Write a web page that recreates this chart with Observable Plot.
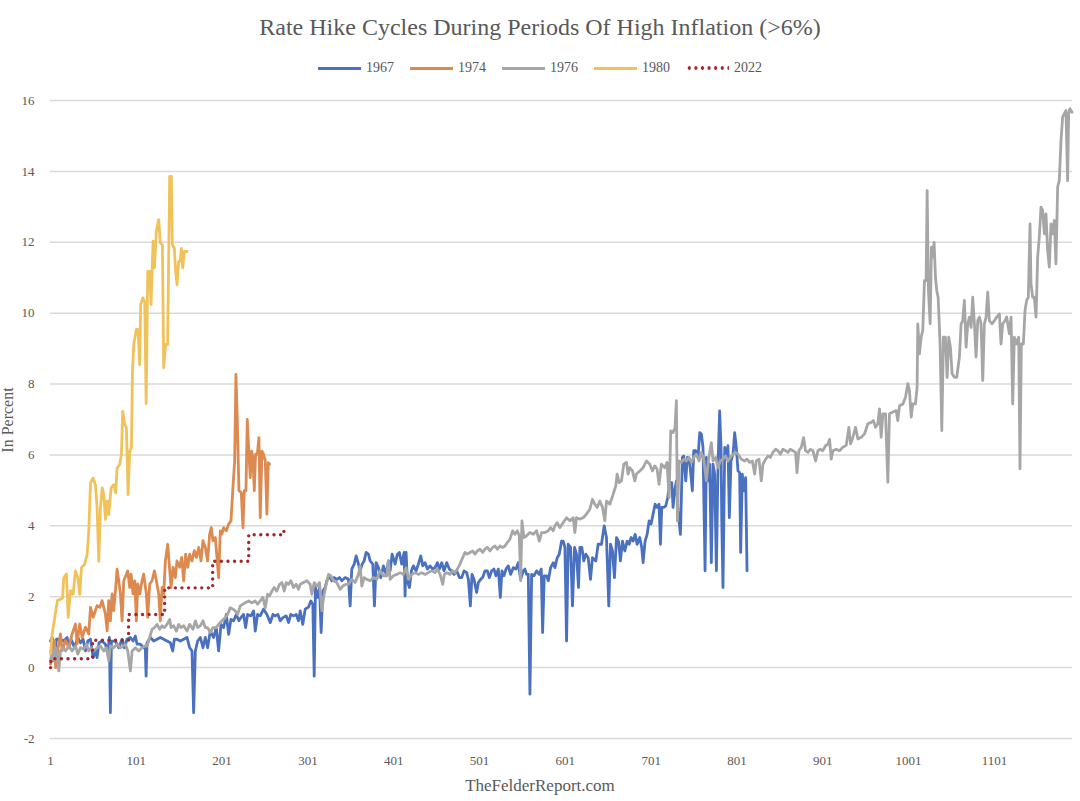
<!DOCTYPE html>
<html><head><meta charset="utf-8">
<script src="https://cdn.jsdelivr.net/npm/d3@7"></script>
<script src="https://cdn.jsdelivr.net/npm/@observablehq/plot@0.6"></script>
<style>
body{margin:0;background:#fff;font-family:"Liberation Serif",serif;color:#595959;}
#wrap{position:relative;width:1080px;height:801px;overflow:hidden;}
#title{position:absolute;top:13px;left:0;width:1080px;text-align:center;font-size:24px;line-height:28px;}
#legend{position:absolute;top:60px;left:0;width:1080px;display:flex;justify-content:center;align-items:center;font-size:14px;line-height:16px;}
.item{display:flex;align-items:center;margin:0 8px;}
.sw{width:43px;height:3px;margin-right:5px;}
#chart{position:absolute;top:90px;left:0;z-index:1;}
#ylabel{position:absolute;left:-32px;top:410px;width:80px;text-align:center;font-size:16px;line-height:20px;transform:rotate(-90deg);z-index:2;}
#caption{position:absolute;top:776px;left:0;width:1080px;text-align:center;font-size:17px;line-height:20px;z-index:2;}
</style></head>
<body><div id="wrap">
<div id="title">Rate Hike Cycles During Periods Of High Inflation (&gt;6%)</div>
<div id="legend"></div>
<div id="ylabel">In Percent</div>
<div id="chart"></div>
<div id="caption">TheFelderReport.com</div>
</div>
<script>
// [day index, percent]
const s1967 = [[1,0.75],[3,0.85],[5.7,0.38],[8,0.8],[12.6,0.8],[16.5,0.75],[20.4,0.85],[22.3,0.56],[25,0.8],[29,0.56],[32.8,0.85],[35.9,0.7],[39,0.8],[41.7,0.47],[44.5,0.75],[47.6,0.8],[50.7,0.28],[53.4,0.47],[55.3,0.28],[57.6,0.7],[61.1,0.75],[65,0.66],[67.7,0.38],[69.6,0.85],[70.8,-1.27],[72,0.75],[76.7,0.75],[80.5,0.56],[84.4,0.8],[87.1,0.56],[90.2,0.8],[94.1,0.85],[97.2,0.75],[99.9,0.89],[101.9,0.66],[105.8,0.66],[109.6,0.56],[111.4,0.6],[112.4,-0.24],[113.5,0.7],[117.4,0.85],[121.3,0.75],[125.2,0.8],[129,0.85],[132.9,0.8],[136.8,0.75],[140.7,0.7],[143.4,0.47],[145.3,0.8],[148.4,0.8],[152.3,0.75],[156.2,0.8],[160.1,0.85],[163.2,0.56],[165.9,0.47],[167.8,-1.27],[169.8,0.47],[172.5,0.75],[175.6,0.85],[178.7,0.56],[181.4,0.85],[184.1,0.56],[187.2,1.03],[191.1,0.85],[194.2,1.13],[196.9,0.47],[199.7,1.22],[202.8,1.13],[205.9,1.5],[208.6,0.94],[211.3,1.36],[214.4,1.32],[217.5,1.5],[220.6,1.32],[222.9,1.41],[226,1.5],[228.4,1.13],[230.7,1.5],[234.6,1.46],[237.7,1.6],[239.6,1.03],[242.3,1.5],[245.4,1.46],[249.3,1.65],[253.2,1.5],[257.1,1.27],[260.2,1.5],[262.9,1.46],[266,1.5],[268.7,1.32],[271.8,1.41],[275.7,1.46],[278.4,1.27],[281.1,1.5],[284.2,1.46],[287.3,1.5],[290,1.32],[292,1.6],[295,1.22],[297.8,1.65],[301.7,1.71],[304.4,1.88],[306.7,1.79],[308.3,-0.24],[309.8,2.26],[312.2,1.98],[314.5,2.26],[316.4,0.99],[318.4,2.16],[321.1,2.26],[323,2.45],[326.1,2.59],[328.9,2.45],[331.6,2.54],[334.7,2.49],[337.8,2.54],[340.5,2.45],[344.4,2.54],[348.3,2.49],[350.2,1.74],[352.1,2.78],[354.9,2.92],[357.2,3.15],[359.9,2.92],[361.8,2.73],[364.2,2.92],[366.5,3.01],[368.8,3.25],[371.5,3.2],[373.5,3.01],[376.6,2.92],[378.5,1.74],[380.5,2.96],[383.2,2.82],[385.9,2.54],[389,2.87],[392.1,2.63],[394.8,3.01],[396.8,2.73],[399.1,3.2],[402.6,2.92],[405.3,3.2],[407.6,3.25],[410.3,2.92],[413.1,3.25],[414.2,2.02],[415.4,3.25],[416.9,2.45],[419.3,2.26],[421.6,2.73],[423.9,2.87],[427,2.73],[429.7,2.92],[432.5,3.15],[434.8,2.87],[437.5,2.96],[440.2,2.78],[443.3,2.87],[446.4,2.78],[449.1,2.82],[451.9,2.96],[454.2,2.78],[456.9,2.96],[459.6,2.73],[462.7,2.96],[465.8,2.78],[468.5,2.73],[471.3,2.63],[474.4,2.73],[477.5,2.54],[480.2,2.54],[482.9,2.73],[486,2.68],[488,2.49],[490.3,1.74],[492.2,2.63],[494.5,2.49],[497.6,2.12],[499.6,2.4],[502.3,2.49],[504.6,2.54],[507.3,2.73],[510.1,2.73],[512.4,2.54],[515.1,2.73],[517.8,2.78],[520.1,2.59],[522.9,2.78],[525.2,1.98],[527.1,2.73],[529.5,2.59],[531.8,2.78],[534.5,2.87],[537.2,2.63],[540.3,2.82],[543.4,2.78],[546.1,2.96],[548.9,2.49],[552,2.73],[553.9,2.78],[555.8,2.63],[557.8,2.63],[559.7,-0.75],[561.7,2.63],[564.4,2.59],[567.5,2.73],[570.6,2.63],[572.9,2.78],[574.5,0.99],[576.4,2.59],[579.1,2.59],[581.1,2.45],[583.8,2.82],[586.9,2.96],[588.8,2.82],[591.5,3.1],[593.9,3.2],[596.6,3.57],[598.5,3.57],[600.5,3.39],[602.4,0.75],[604.3,3.48],[607.1,3.39],[609.3,1.74],[611.7,3.39],[614,3.2],[616.3,2.26],[617.9,3.39],[620.2,3.39],[622.5,3.01],[624.9,3.2],[627.6,3.1],[630.3,2.49],[632.6,3.1],[636.5,3.01],[639.2,3.48],[643.1,3.48],[646.2,4.0],[648.9,3.67],[651.6,1.74],[653.6,3.48],[655.9,3.29],[658.2,2.54],[660.6,3.67],[662.9,3.57],[665.2,3.01],[667.5,3.57],[670.3,3.29],[673,3.57],[675.3,3.48],[677.6,3.67],[680,3.57],[682.3,3.76],[684.6,3.48],[687.7,3.67],[690,3.39],[691.6,2.96],[693.9,3.57],[696.3,3.76],[698.6,4.14],[700.9,4.05],[703.2,4.33],[705.6,4.61],[707.9,4.52],[710.2,4.61],[711.8,3.48],[713.3,4.52],[715.7,4.52],[718,4.56],[720.3,4.8],[722.6,5.22],[725,5.22],[726.5,4.52],[728.5,4.99],[730.4,5.27],[732.3,4.42],[735.1,3.76],[737.4,5.93],[738.9,5.97],[741.3,5.27],[743.2,5.93],[745.9,5.79],[749,4.99],[750.6,6.12],[752.9,6.12],[755.6,5.93],[757.6,6.63],[759.5,6.59],[761.4,6.21],[763.8,2.73],[765.3,5.93],[767.3,5.27],[769.2,5.74],[771.1,2.96],[773.1,5.74],[775,5.46],[777,2.73],[778.9,5.74],[780.8,7.24],[782.4,6.21],[783.2,4.23],[784.7,2.26],[786.7,6.21],[788.6,6.02],[790.5,6.26],[792.1,4.23],[794,5.83],[796.4,6.02],[798.3,6.63],[800.2,6.21],[802.2,5.55],[804.1,5.5],[805.3,3.25],[807.2,5.46],[809.2,4.99],[811.1,5.36],[812.7,2.73]];

const s1974 = [[1,0.1],[2.9,0.29],[5.7,0.76],[7,0.0],[8.8,0.38],[12.6,0.95],[14.6,0.48],[18.5,0.76],[22.3,0.57],[26.2,0.95],[30.1,1.23],[32,0.67],[35.1,1.23],[37.9,0.85],[41.7,1.14],[45.6,0.95],[47.6,1.7],[50.7,1.42],[53.4,1.61],[55.3,1.75],[58.4,1.7],[61.1,1.89],[63.1,1.7],[65,1.51],[67,1.04],[68.9,1.89],[70.8,1.32],[72.8,2.08],[74.7,1.61],[76.7,2.17],[78.6,2.78],[80.5,2.45],[82.5,2.08],[84.4,1.32],[86.4,2.45],[89.5,2.64],[91,2.73],[93.3,2.26],[94.9,2.64],[97.2,2.08],[99.2,2.45],[101.1,1.32],[102.7,2.36],[105,2.08],[107.7,2.45],[109.6,2.64],[112.7,2.08],[114.3,1.42],[116.6,2.36],[119.3,2.45],[122.1,2.73],[124.4,2.45],[127.1,2.08],[129,1.32],[131,2.26],[132.9,2.08],[134.9,3.01],[137.6,3.48],[139.1,3.01],[141.5,2.26],[143.8,2.83],[146.5,2.54],[148.4,3.01],[151.5,2.83],[153.9,3.11],[156.2,2.45],[158.5,3.2],[160.9,2.83],[163.2,3.2],[165.9,3.01],[168.6,3.3],[171,3.11],[173.7,3.39],[176.4,3.01],[178.7,3.58],[181.4,3.39],[184.1,3.01],[186.5,3.77],[188.4,3.95],[190.3,3.58],[193.1,3.67],[196.9,2.54],[198.9,3.86],[200.8,3.77],[202.8,3.95],[205.9,3.86],[208.6,4.05],[211.3,4.14],[213.6,5.08],[215.6,5.83],[217.1,8.27],[218.7,6.96],[220.6,4.99],[223.3,4.94],[225.3,3.95],[226.8,4.99],[228.8,4.99],[230.3,7.0],[232.3,6.02],[233.8,5.36],[235.4,6.11],[236.9,5.92],[238.5,4.99],[240,6.02],[242,6.02],[243.9,6.49],[245.4,4.23],[247.4,6.11],[249.3,6.02],[251.3,5.83],[253.2,4.33],[254.8,5.78],[256.3,5.74]];

const s1976 = [[1,0.19],[3,0.47],[4.9,0.19],[6.8,0.56],[8.8,0.38],[10.7,-0.09],[12.6,0.47],[15.7,0.56],[18.5,0.47],[22.3,0.61],[26.2,0.47],[30.1,0.61],[32.8,0.38],[35.9,0.56],[39.8,0.52],[42.9,0.66],[45.6,0.47],[48.3,0.56],[51.4,0.47],[55.3,0.56],[59.2,0.61],[63.1,0.47],[66.2,0.56],[68.9,0.19],[70.8,0.61],[74.7,0.56],[78.6,0.66],[82.5,0.56],[85.6,0.61],[88.3,0.66],[91,0.47],[94.1,-0.09],[96.1,0.47],[100,0.56],[103.8,0.47],[107.7,0.56],[110.8,0.61],[113.5,0.61],[116.6,0.85],[119.3,1.08],[122.1,1.13],[125.2,1.22],[128.3,1.08],[131,1.18],[133.7,1.13],[136.8,1.22],[139.9,1.36],[141.5,1.13],[144.6,1.18],[147.7,1.03],[150.4,1.22],[153.1,1.13],[156.2,1.18],[160.1,1.03],[163.2,1.22],[167.1,1.08],[169.8,1.32],[172.5,1.13],[175.6,1.18],[178.7,1.32],[181.4,1.13],[184.1,1.13],[187.2,0.99],[190.3,1.13],[194.2,1.13],[196.9,1.22],[200.8,1.32],[204.7,1.41],[207.4,1.5],[210.5,1.69],[213.6,1.65],[216.3,1.6],[219.1,1.5],[222.2,1.74],[225.3,1.79],[228,1.83],[231.9,1.88],[235.7,1.83],[239.6,1.88],[242.3,1.79],[245.4,1.88],[248.5,1.98],[251.3,1.69],[254,2.07],[256.3,2.02],[259,2.16],[261.7,2.26],[264.8,2.16],[267.9,2.35],[270.7,2.4],[273.4,2.16],[275.7,2.4],[278.4,2.35],[281.1,2.45],[284.2,2.26],[287.3,2.35],[290,2.21],[292,2.35],[295.9,2.4],[299.8,2.45],[303.6,2.35],[305.6,2.07],[308.3,2.4],[311.4,2.3],[314.5,2.4],[317.2,1.6],[319.2,1.98],[322.3,2.35],[325,2.63],[327.7,2.59],[330.8,2.45],[334.7,2.4],[338.6,2.21],[341.7,2.3],[345.5,2.35],[348.3,2.35],[352.1,2.49],[356,2.4],[359.9,2.63],[361.8,2.87],[363.8,2.3],[366.5,2.54],[369.6,2.49],[373.5,2.45],[377.4,2.54],[381.2,2.49],[385.1,2.73],[389,2.59],[392.9,2.59],[394.8,3.01],[396.8,2.49],[400.6,2.59],[404.5,2.63],[408.4,2.68],[412.3,2.63],[415.4,2.82],[418.1,2.49],[422,2.63],[425.9,2.68],[429.7,2.63],[433.6,2.68],[437.5,2.63],[441.4,2.68],[445.3,2.73],[449.1,2.68],[451.9,2.78],[455,2.63],[458.1,2.35],[460,2.63],[462.7,2.68],[466.6,2.63],[469.7,2.73],[472.4,2.68],[475.1,2.78],[478.2,2.92],[481.3,3.1],[484.1,3.25],[486.8,3.2],[489.9,3.25],[493,3.29],[495.7,3.2],[498.4,3.29],[501.5,3.34],[504.6,3.25],[507.3,3.34],[510.1,3.39],[513.2,3.29],[516.3,3.39],[519,3.43],[521.7,3.34],[524.8,3.43],[527.9,3.39],[530.6,3.43],[533.3,3.53],[536.4,3.62],[539.5,3.86],[542.3,3.76],[545,3.86],[547.3,3.72],[548.9,2.45],[550.4,4.14],[552.7,3.67],[555.8,3.72],[559.7,3.81],[563.6,3.76],[567.5,3.86],[570.6,3.57],[573.3,3.81],[577.2,3.81],[581.1,3.86],[583.8,3.95],[586.9,3.86],[588.8,4.0],[591.5,4.09],[594.6,3.95],[598.5,4.09],[602.4,4.23],[606.2,4.14],[610.1,4.23],[612.1,3.81],[614,4.23],[617.9,4.19],[621.8,4.23],[625.6,4.33],[629.5,4.47],[632.6,4.75],[635.3,4.61],[638.1,4.52],[641.2,4.7],[644.3,4.52],[647,4.14],[648.9,4.7],[652.8,4.61],[656.7,4.89],[659.8,5.13],[661.3,5.46],[663.7,5.22],[666.4,5.27],[669.1,5.74],[672.2,5.79],[674.1,5.46],[676.1,5.64],[679.2,5.55],[681.9,5.27],[683.8,5.46],[687.7,5.55],[691.6,5.64],[695.5,5.83],[699.4,5.74],[702.5,5.55],[705.2,5.69],[707.9,5.6],[710.2,5.17],[712.9,5.74],[716.8,5.64],[719.5,5.79],[721.9,4.8],[723.8,6.68],[726.5,6.63],[728.8,6.77],[730.4,7.53],[731.6,4.14],[733.5,5.83],[736.2,5.79],[738.9,5.88],[742,5.83],[745.1,5.93],[747.9,5.79],[750.6,5.93],[753.7,6.02],[756.8,5.83],[759.5,6.07],[762.2,5.88],[765.3,5.27],[768,5.88],[771.1,6.35],[773.1,5.83],[776.2,5.93],[778.9,5.64],[781.6,5.83],[784.7,5.88],[787.8,5.97],[790.5,5.83],[793.3,5.93],[796.4,6.02],[799.5,6.07],[802.2,6.02],[806.1,5.88],[810,5.83],[812.7,5.88],[815.8,5.79],[818.9,5.83],[821.6,5.46],[823.5,5.83],[826.6,5.88],[829.3,5.27],[831.3,5.74],[834.4,5.88],[837.1,5.97],[839.8,5.93],[842.9,6.07],[846,6.16],[848.7,6.12],[851.5,6.02],[854.6,6.16],[857.7,6.12],[860.4,6.07],[863.1,6.16],[866.2,6.12],[869.3,6.07],[870.9,5.5],[873.2,6.12],[875.9,6.21],[878.6,6.49],[880.9,6.12],[883.7,6.07],[886.4,6.16],[889.5,6.12],[892.6,5.83],[895.3,6.12],[898,6.16],[901.1,6.12],[904.2,6.26],[906.9,6.3],[908.9,6.44],[910.8,5.88],[912.8,6.12],[916.6,6.16],[920.5,6.12],[924.4,6.22],[928.3,6.27],[931.4,6.78],[933.3,6.31],[936.1,6.5],[939.2,6.78],[941.9,6.45],[945.8,6.5],[949.6,6.59],[953.5,6.88],[957.4,6.92],[960.1,6.97],[962.4,6.78],[965.2,6.88],[967.1,7.3],[969,6.5],[971,7.16],[974.1,7.16],[976.8,5.23],[978.7,7.16],[982.6,7.21],[986.5,7.25],[988.4,6.97],[990.4,7.39],[994.3,7.44],[997.4,7.63],[1000.1,8.01],[1002,7.82],[1004,7.07],[1005.9,7.44],[1009,7.44],[1010.9,7.91],[1011.7,9.7],[1013.7,8.85],[1015.6,9.32],[1017.5,9.51],[1019.5,10.92],[1021.4,10.92],[1022.6,13.46],[1024.1,10.64],[1026.1,9.7],[1027.6,11.86],[1029.2,11.58],[1030.7,12.0],[1032.3,11.02],[1033.8,10.64],[1035.4,10.45],[1037.7,9.13],[1039.7,6.69],[1041.6,9.32],[1043.9,9.32],[1045.9,8.19],[1047.8,9.32],[1049.7,9.04],[1051.7,8.29],[1054.4,8.19],[1057.1,8.19],[1060.2,8.76],[1062.2,9.7],[1064.1,9.79],[1066,10.36],[1068,9.04],[1069.9,9.7],[1071.9,9.89],[1073.8,9.6],[1075.7,10.45],[1077.7,9.7],[1079.6,8.76],[1081.6,9.79],[1083.5,9.89],[1085.4,9.7],[1087.4,8.1],[1089.3,9.7],[1091.3,9.89],[1093.2,10.59],[1095.1,9.79],[1098.2,9.7],[1101,9.79],[1103.7,9.89],[1106.8,9.98],[1108.7,9.13],[1110.7,9.7],[1113.4,9.79],[1115.3,9.89],[1118.4,9.42],[1120.4,9.89],[1122.3,7.44],[1124.2,9.32],[1126.9,9.13],[1129.3,9.32],[1130.8,5.61],[1132.4,9.13],[1134.7,9.13],[1136.7,10.08],[1138.6,10.36],[1140.5,10.45],[1142.5,12.52],[1143.6,10.83],[1145.6,10.45],[1147.5,10.45],[1149.5,9.89],[1151.4,11.58],[1153.3,12.15],[1155.3,12.99],[1157.2,12.9],[1159.2,12.24],[1161.1,12.8],[1163,11.77],[1165,11.3],[1166.9,12.52],[1168.9,12.24],[1170.8,12.62],[1172.7,11.39],[1174.7,13.56],[1176.6,13.74],[1178.6,14.87],[1180.5,15.53],[1182.4,15.63],[1184.4,15.72],[1186.3,13.74],[1187.5,15.63],[1189,15.77],[1191.4,15.67]];

const s1980 = [[1,0.39],[3,0.95],[9,1.89],[15,1.96],[16.5,2.54],[19.6,2.64],[21.6,1.42],[24.3,2.17],[27.4,2.07],[30.1,2.73],[32.8,2.54],[35.1,2.07],[37.1,2.82],[40.6,2.91],[43.7,3.19],[45.6,3.85],[47.6,5.21],[50.7,5.35],[53.4,5.16],[55.3,4.5],[57.3,3.0],[59.2,4.5],[61.2,5.07],[63.1,4.88],[65,4.18],[67,4.7],[68.9,4.32],[71.6,5.07],[74.7,5.16],[77,4.93],[78.6,5.63],[81.7,5.73],[83.6,6.01],[85.2,7.23],[87.1,6.9],[89.5,6.76],[91.4,4.88],[93.3,6.1],[95.3,6.2],[96.5,8.3],[98,9.12],[101.1,9.54],[103,9.54],[105,8.55],[106.1,10.24],[108.5,10.43],[110.8,10.33],[112.5,7.45],[114.3,11.18],[116.6,11.18],[118.2,10.24],[120.5,12.03],[122.1,11.28],[124.4,12.31],[127.1,12.64],[129,11.98],[131.4,11.93],[132.9,8.46],[135.2,9.12],[137.5,9.12],[139.9,13.86],[141.8,13.86],[143,11.93],[145.3,11.83],[146.9,11.18],[148.4,10.8],[150.4,11.46],[152.3,11.46],[153.5,11.83],[155,11.28],[157,11.74],[160.1,11.74]];

const s2022 = [[1,0],[1.5,0.25],[50,0.77],[92,1.5],[134,2.25],[190,3.0],[232,3.75],[273,4.0]];

const seriesNames = ["1967","1974","1976","1980","2022"];
const seriesColors = ["#4a70c0","#dc8a4f","#a6a6a6","#f1c25a","#a3272a"];
const xTicks = [1,101,201,301,401,501,601,701,801,901,1001,1101];
const yTicks = [-2,0,2,4,6,8,10,12,14,16];

const rows = (name, arr) => arr.map(([x, y]) => ({series: name, x, y}));
const data = [s1967, s1974, s1976, s1980, s2022].map((s, i) => rows(seriesNames[i], s));

const solid = (d, i) => Plot.line(d, {x: "x", y: "y", stroke: seriesColors[i], strokeWidth: 2.8, strokeLinejoin: "round", strokeLinecap: "round"});

const chart = Plot.plot({
  width: 1080, height: 685,
  marginTop: 10, marginBottom: 37, marginLeft: 50, marginRight: 8,
  x: {type: "linear", domain: [1, 1192]},
  y: {domain: [-2, 16]},
  style: {fontFamily: "Liberation Serif, serif", fontSize: "13px", color: "#595959", background: "transparent", overflow: "visible"},
  marks: [
    Plot.ruleY(yTicks, {stroke: "#d9d9d9", strokeWidth: 1.5}),
    Plot.axisX(xTicks, {tickSize: 0, tickPadding: 17, tickFormat: d => String(d), label: null, fill: "#595959"}),
    Plot.axisY(yTicks, {tickSize: 0, tickPadding: 16, tickFormat: d => String(d), label: null, fill: "#595959"}),
    solid(data[0], 0),
    solid(data[1], 1),
    solid(data[2], 2),
    solid(data[3], 3),
    Plot.line(data[4], {x: "x", y: "y", curve: "step-after", stroke: seriesColors[4], strokeWidth: 3.4, strokeDasharray: "0 6.6", strokeLinecap: "round"})
  ]
});
document.getElementById("chart").appendChild(chart);

const legend = document.getElementById("legend");
seriesNames.forEach((n, i) => {
  const item = document.createElement("div");
  item.className = "item";
  const sw = document.createElement("div");
  sw.className = "sw";
  if (n === "2022") {
    sw.style.height = "4px";
    sw.style.background = `radial-gradient(circle, ${seriesColors[i]} 1.5px, transparent 2px) 0 0 / 6.6px 4px repeat-x`;
  } else {
    sw.style.background = seriesColors[i];
  }
  const t = document.createElement("span");
  t.textContent = n;
  item.appendChild(sw); item.appendChild(t);
  legend.appendChild(item);
});
</script>
</body></html>
